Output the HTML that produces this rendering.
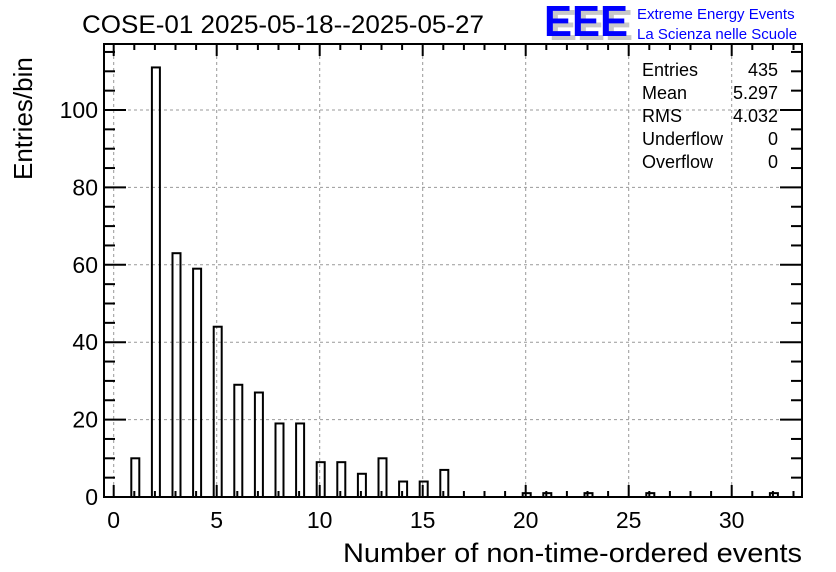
<!DOCTYPE html>
<html><head><meta charset="utf-8"><style>
body{margin:0;background:#fff;}
svg{display:block;font-family:"Liberation Sans",Arial,sans-serif;}
</style></head><body>
<svg id="c" width="836" height="572" viewBox="0 0 836 572">
<text x="82" y="33" font-size="25" textLength="402" lengthAdjust="spacingAndGlyphs">COSE-01 2025-05-18--2025-05-27</text>
<g>
<text x="549" y="40" font-size="44" font-weight="bold" fill="#c8c8c8" textLength="84" lengthAdjust="spacingAndGlyphs">EEE</text>
<text x="544" y="36" font-size="44" font-weight="bold" fill="#0000ff" textLength="84" lengthAdjust="spacingAndGlyphs">EEE</text>
<text x="637" y="19" font-size="15" fill="#0000ff">Extreme Energy Events</text>
<text x="637" y="39" font-size="15" fill="#0000ff">La Scienza nelle Scuole</text>
</g>
<g id="grid"></g>
<g id="bars"></g>
<g id="axes"></g>
<g font-size="18">
<text x="642" y="76">Entries</text><text x="778" y="76" text-anchor="end">435</text>
<text x="642" y="99">Mean</text><text x="778" y="99" text-anchor="end">5.297</text>
<text x="642" y="122">RMS</text><text x="778" y="122" text-anchor="end">4.032</text>
<text x="642" y="145">Underflow</text><text x="778" y="145" text-anchor="end">0</text>
<text x="642" y="168">Overflow</text><text x="778" y="168" text-anchor="end">0</text>
</g>
<text x="802" y="562" font-size="27" text-anchor="end" textLength="459" lengthAdjust="spacingAndGlyphs">Number of non-time-ordered events</text>
<text transform="translate(32,180) rotate(-90)" font-size="26">Entries/bin</text>
</svg>
<script>
const binValues=[0,1,2,3,4,5,6,7,8,9,10,11,12,13,14,15,16,20,21,23,26,32];
const counts=[0,10,111,63,59,44,29,27,19,19,9,9,6,10,4,4,7,1,1,1,1,1];
const xTicks=[0,5,10,15,20,25,30];
const yTicks=[0,20,40,60,80,100];
const NS="http://www.w3.org/2000/svg";
const L=104,R=802,T=44,B=497;
const X=v=>113.7+v*20.6;
const Y=v=>497-v*3.87;
function mk(p,t,a){const e=document.createElementNS(NS,t);for(const k in a)e.setAttribute(k,a[k]);p.appendChild(e);return e;}
const grid=document.getElementById('grid'),bars=document.getElementById('bars'),axes=document.getElementById('axes');
xTicks.forEach(t=>{const g=mk(grid,'line',{x1:X(t),x2:X(t),y1:T,y2:B,stroke:'#999','stroke-dasharray':'3,3','stroke-width':1});

});
yTicks.forEach(t=>{const g=mk(grid,'line',{x1:L,x2:R,y1:Y(t),y2:Y(t),stroke:'#999','stroke-dasharray':'3,3','stroke-width':1});

});
binValues.forEach((b,i)=>{const c=counts[i];if(c<=0)return;
const r=mk(bars,'rect',{x:X(b)-3,y:Y(c),width:8,height:B-Y(c),fill:'none',stroke:'#000','stroke-width':2});

});
const f=mk(axes,'rect',{x:L,y:T,width:R-L,height:B-T,fill:'none',stroke:'#000','stroke-width':2});


for(let v=0;v<=33;v++){const len=v%5===0?12:6;
mk(axes,'line',{x1:X(v),x2:X(v),y1:B,y2:B-len,stroke:'#000','stroke-width':2});
mk(axes,'line',{x1:X(v),x2:X(v),y1:T,y2:T+len,stroke:'#000','stroke-width':2});}
for(let v=0;v<=115;v+=5){const len=v%20===0?22:11;
mk(axes,'line',{x1:L,x2:L+len,y1:Y(v),y2:Y(v),stroke:'#000','stroke-width':2});
mk(axes,'line',{x1:R,x2:R-len,y1:Y(v),y2:Y(v),stroke:'#000','stroke-width':2});}
xTicks.forEach(t=>{const e=mk(axes,'text',{x:X(t),y:528,'font-size':23,'text-anchor':'middle'});e.textContent=t;

});
yTicks.forEach(t=>{const e=mk(axes,'text',{x:98,y:Y(t)+8,'font-size':23,'text-anchor':'end'});e.textContent=t;

});
</script>
</body></html>
